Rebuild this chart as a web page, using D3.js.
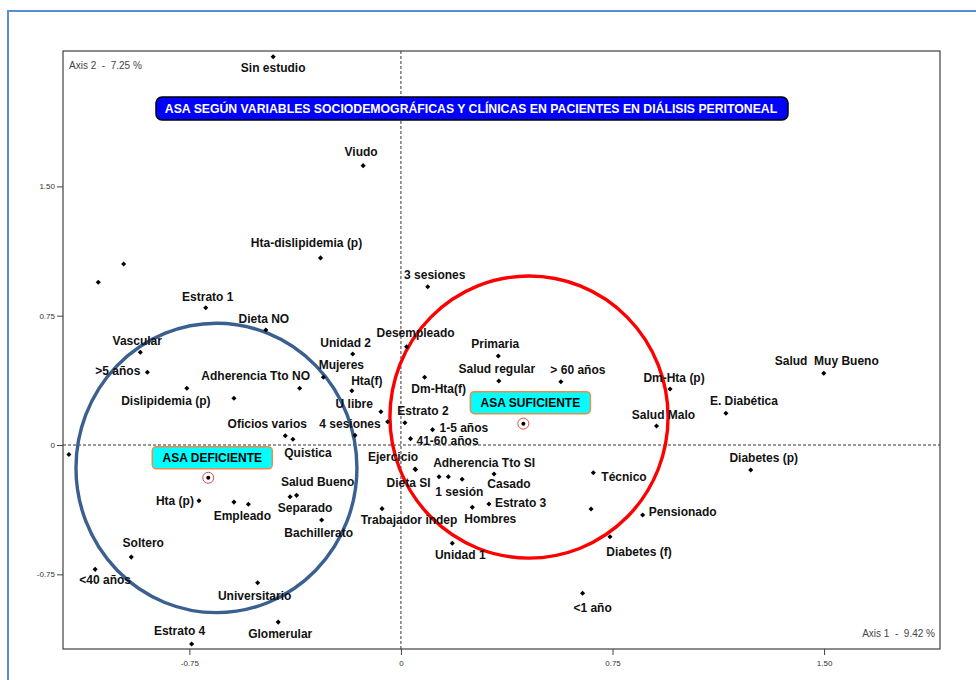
<!DOCTYPE html>
<html>
<head>
<meta charset="utf-8">
<script src="https://cdn.jsdelivr.net/npm/d3@7/dist/d3.min.js"></script>
<style>
  body { margin: 0; background: #fff; }
  svg { display: block; font-family: Arial, "Liberation Sans", sans-serif; }
  text { white-space: pre; }
</style>
</head>
<body>
<div id="chart"></div>
<script>
// Categories (modalities) and their coordinates on the two factorial axes
const categories = [
  'Sin estudio', 'Viudo', 'Hta-dislipidemia (p)', '', '', '3 sesiones', 'Estrato 1',
  'Dieta NO', 'Desempleado', 'Vascular', 'Unidad 2', 'Primaria', '>5 años', 'Mujeres',
  'Dm-Hta(f)', 'Salud  Muy Bueno', 'Salud regular', '> 60 años', 'Dislipidemia (p)',
  'Adherencia Tto NO', 'Dm-Hta (p)', 'Hta(f)', '', 'U libre', 'E. Diabética',
  '4 sesiones', 'Estrato 2', 'Salud Malo', '1-5 años', 'Oficios varios', '',
  '41-60 años', 'Quistica', '', 'Ejercicio', 'Dieta SI', 'Diabetes (p)', 'Técnico',
  'Casado', '', '1 sesión', 'Adherencia Tto SI', 'Salud Bueno', 'Separado', 'Hta (p)',
  '', 'Empleado', 'Estrato 3', 'Hombres', 'Trabajador indep', '', 'Pensionado',
  'Bachillerato', 'Diabetes (f)', 'Unidad 1', 'Soltero', '<40 años', 'Universitario',
  '<1 año', 'Glomerular', 'Estrato 4'
];
const axis1 = [
  -0.453, -0.134, -0.285, -1.073, -0.983, 0.095, -0.692,
  -0.479, 0.020, -0.924, -0.171, 0.345, -0.899, -0.275,
  0.084, 1.499, 0.347, 0.567, -0.759,
  -0.359, 0.954, -0.174, -0.592, -0.071, 1.152,
  -0.047, 0.014, 0.906, 0.112, -0.410, -0.163,
  0.034, -0.383, -1.177, 0.050, 0.052, 1.240, 0.682,
  0.330, 0.135, 0.168, 0.217, -0.370, -0.393, -0.716,
  -0.592, -0.541, 0.312, 0.253, -0.067, 0.674, 0.857,
  -0.281, 0.741, 0.182, -0.956, -1.084, -0.508,
  0.644, -0.435, -0.742
];
const axis2 = [
  2.252, 1.620, 1.085, 0.944, 1.050, 0.918, 0.796,
  0.667, 0.570, 0.538, 0.528, 0.516, 0.422, 0.393,
  0.393, 0.416, 0.371, 0.367, 0.329,
  0.329, 0.325, 0.315, 0.271, 0.193, 0.184,
  0.135, 0.129, 0.110, 0.089, 0.054, 0.056,
  0.037, 0.033, -0.055, -0.140, -0.142, -0.145, -0.161,
  -0.168, -0.184, -0.184, -0.199, -0.292, -0.300, -0.323,
  -0.331, -0.344, -0.342, -0.361, -0.369, -0.371, -0.406,
  -0.435, -0.532, -0.570, -0.650, -0.721, -0.799,
  -0.860, -1.027, -1.154
];

// ASA groups (supplementary centroids)
const groups = ['ASA DEFICIENTE', 'ASA SUFICIENTE'];
const groupAxis1 = [-0.683, 0.434];
const groupAxis2 = [-0.190, 0.124];

// Ticks
const xTicks = [-0.75, 0, 0.75, 1.5];
const yTicks = [-0.75, 0, 0.75, 1.5];
const tickLabels = ['-0.75', '0', '0.75', '1.50'];

const title = 'ASA SEGÚN VARIABLES SOCIODEMOGRÁFICAS Y CLÍNICAS EN PACIENTES EN DIÁLISIS PERITONEAL';
const axis1Label = 'Axis 1  -  9.42 %';
const axis2Label = 'Axis 2  -  7.25 %';

// ---- layout (pixels) ----
const W = 976, H = 680;
const plot = { left: 63, right: 940, top: 51, bottom: 649 };

// label placement: [anchor, dx, dy] relative to the point
const labelPlacement = {
  'Sin estudio': ['middle', 0, 15], 'Viudo': ['middle', -2, -10],
  'Hta-dislipidemia (p)': ['middle', -14, -11], '3 sesiones': ['middle', 7, -8],
  'Estrato 1': ['middle', 2, -7], 'Dieta NO': ['middle', -2, -7],
  'Desempleado': ['middle', 9, -10], 'Vascular': ['middle', -3, -7],
  'Unidad 2': ['middle', -7, -7], 'Primaria': ['middle', -3, -8],
  '>5 años': ['end', -7, 3], 'Mujeres': ['middle', 18, -8],
  'Dm-Hta(f)': ['middle', 14, 16], 'Salud  Muy Bueno': ['middle', 3, -8],
  'Salud regular': ['middle', -2, -8], '> 60 años': ['middle', 17, -8],
  'Dislipidemia (p)': ['middle', -21, 17], 'Adherencia Tto NO': ['middle', -44, -8],
  'Dm-Hta (p)': ['middle', 4, -7], 'Hta(f)': ['middle', 15, -6],
  'U libre': ['end', -8, -4], 'E. Diabética': ['middle', 18, -8],
  '4 sesiones': ['end', -7, 6], 'Estrato 2': ['middle', 18, -8],
  'Salud Malo': ['middle', 7, -7], '1-5 años': ['start', 7, 2],
  'Oficios varios': ['middle', -18, -8], '41-60 años': ['start', 6, 6],
  'Quistica': ['middle', 15, 18], 'Ejercicio': ['middle', -22, -8],
  'Dieta SI': ['middle', -7, 18], 'Diabetes (p)': ['middle', 13, -8],
  'Técnico': ['start', 8, 8], 'Casado': ['middle', 15, 14],
  '1 sesión': ['middle', 11, 19], 'Adherencia Tto SI': ['middle', 22, -12],
  'Salud Bueno': ['middle', 21, -9], 'Separado': ['middle', 15, 15],
  'Hta (p)': ['end', -5, 4], 'Empleado': ['middle', -6, 16],
  'Estrato 3': ['start', 6, 3], 'Hombres': ['middle', 18, 16],
  'Trabajador indep': ['middle', 27, 15], 'Pensionado': ['start', 6, 1],
  'Bachillerato': ['middle', -3, 17], 'Diabetes (f)': ['middle', 29, 19],
  'Unidad 1': ['middle', 8, 16], 'Soltero': ['middle', 12, -10],
  '<40 años': ['middle', 10, 15], 'Universitario': ['middle', -3, 17],
  '<1 año': ['middle', 10, 19], 'Glomerular': ['middle', 2, 16],
  'Estrato 4': ['middle', -12, -9]
};

const svg = d3.select('#chart').append('svg')
  .attr('width', W)
  .attr('height', H);

// outer frame
svg.append('rect')
  .attr('x', 8).attr('y', 11)
  .attr('width', W + 20).attr('height', H + 20)
  .attr('fill', 'none')
  .attr('stroke', '#5b8cd2')
  .attr('stroke-width', 2);

const x = d3.scaleLinear().domain([-1.198, 1.911]).range([plot.left, plot.right]);
const y = d3.scaleLinear().domain([-1.183, 2.285]).range([plot.bottom, plot.top]);

// zero lines
svg.append('line')
  .attr('x1', x(0)).attr('x2', x(0))
  .attr('y1', plot.top).attr('y2', plot.bottom)
  .attr('stroke', '#000').attr('stroke-width', 0.8)
  .attr('stroke-dasharray', '3,2');
svg.append('line')
  .attr('x1', plot.left).attr('x2', plot.right)
  .attr('y1', y(0)).attr('y2', y(0))
  .attr('stroke', '#000').attr('stroke-width', 0.8)
  .attr('stroke-dasharray', '3,2');

// axes
const xAxis = d3.axisBottom(x).tickValues(xTicks).tickSize(6)
  .tickFormat((d, i) => tickLabels[i]);
const yAxis = d3.axisLeft(y).tickValues(yTicks).tickSize(6)
  .tickFormat((d, i) => tickLabels[i]);

svg.append('g')
  .attr('transform', `translate(0,${plot.bottom})`)
  .call(xAxis)
  .call(g => g.select('.domain').remove())
  .call(g => g.selectAll('line').attr('stroke', '#444'))
  .call(g => g.selectAll('text').attr('font-size', 8).attr('fill', '#333')
    .attr('font-family', 'Arial, "Liberation Sans", sans-serif').attr('dy', '1.05em'));

svg.append('g')
  .attr('transform', `translate(${plot.left},0)`)
  .call(yAxis)
  .call(g => g.select('.domain').remove())
  .call(g => g.selectAll('line').attr('stroke', '#444'))
  .call(g => g.selectAll('text').attr('font-size', 8).attr('fill', '#333')
    .attr('font-family', 'Arial, "Liberation Sans", sans-serif').attr('x', -8));

// plot frame
svg.append('rect')
  .attr('x', plot.left).attr('y', plot.top)
  .attr('width', plot.right - plot.left).attr('height', plot.bottom - plot.top)
  .attr('fill', 'none')
  .attr('stroke', '#404040')
  .attr('stroke-width', 1.2);

svg.append('text')
  .attr('x', plot.left + 6).attr('y', plot.top + 18)
  .attr('font-size', 10).attr('fill', '#444')
  .text(axis2Label);
svg.append('text')
  .attr('x', plot.right - 5).attr('y', plot.bottom - 12)
  .attr('text-anchor', 'end')
  .attr('font-size', 10).attr('fill', '#444')
  .text(axis1Label);

// group circles (hand drawn ellipses around the two ASA groups)
const zones = [
  { cx: -0.654, cy: -0.133, rx: 0.498, ry: 0.839, color: '#3b5f8e' },
  { cx: 0.454, cy: 0.162, rx: 0.493, ry: 0.818, color: '#ff0000' }
];
svg.append('g').selectAll('ellipse')
  .data(zones)
  .join('ellipse')
  .attr('cx', d => x(d.cx))
  .attr('cy', d => y(d.cy))
  .attr('rx', d => x(d.rx) - x(0))
  .attr('ry', d => y(0) - y(d.ry))
  .attr('fill', 'none')
  .attr('stroke', d => d.color)
  .attr('stroke-width', 3.4);

// points
const points = categories.map((c, i) => ({ label: c, a1: axis1[i], a2: axis2[i] }));

svg.append('g').selectAll('rect')
  .data(points)
  .join('rect')
  .attr('x', -1.8).attr('y', -1.8)
  .attr('width', 3.6).attr('height', 3.6)
  .attr('transform', d => `translate(${x(d.a1)},${y(d.a2)}) rotate(45)`)
  .attr('fill', '#000');

svg.append('g').selectAll('text')
  .data(points.filter(d => d.label))
  .join('text')
  .attr('x', d => x(d.a1) + labelPlacement[d.label][1])
  .attr('y', d => y(d.a2) + labelPlacement[d.label][2])
  .attr('text-anchor', d => labelPlacement[d.label][0])
  .attr('font-size', 12)
  .attr('font-weight', 'bold')
  .attr('fill', '#111')
  .text(d => d.label);

// title box
const titleG = svg.append('g');
titleG.append('rect')
  .attr('x', 156).attr('y', 97)
  .attr('width', 632).attr('height', 23)
  .attr('rx', 6).attr('ry', 6)
  .attr('fill', '#0000ff')
  .attr('stroke', '#000')
  .attr('stroke-width', 1.5);
titleG.append('text')
  .attr('x', 471).attr('y', 113)
  .attr('text-anchor', 'middle')
  .attr('font-size', 12.25)
  .attr('font-weight', 'bold')
  .attr('fill', '#fff')
  .text(title);

// group centroids and their tags
const groupData = groups.map((g, i) => ({ name: g, a1: groupAxis1[i], a2: groupAxis2[i] }));
const boxOffsets = [[-56, -31], [-53, -32]];

const gg = svg.append('g').selectAll('g')
  .data(groupData)
  .join('g');

gg.append('circle')
  .attr('cx', d => x(d.a1)).attr('cy', d => y(d.a2))
  .attr('r', 5.5)
  .attr('fill', '#fff')
  .attr('stroke', '#e84848')
  .attr('stroke-width', 1);
gg.append('circle')
  .attr('cx', d => x(d.a1)).attr('cy', d => y(d.a2))
  .attr('r', 2)
  .attr('fill', '#000');

gg.append('rect')
  .attr('x', (d, i) => x(d.a1) + boxOffsets[i][0])
  .attr('y', (d, i) => y(d.a2) + boxOffsets[i][1])
  .attr('width', 120).attr('height', 22)
  .attr('rx', 4).attr('ry', 4)
  .attr('fill', '#00ffff')
  .attr('stroke', '#f08a4b')
  .attr('stroke-width', 1.5);
gg.append('text')
  .attr('x', (d, i) => x(d.a1) + boxOffsets[i][0] + 60)
  .attr('y', (d, i) => y(d.a2) + boxOffsets[i][1] + 15.5)
  .attr('text-anchor', 'middle')
  .attr('font-size', 12)
  .attr('font-weight', 'bold')
  .attr('fill', '#000')
  .text(d => d.name);
</script>
</body>
</html>
